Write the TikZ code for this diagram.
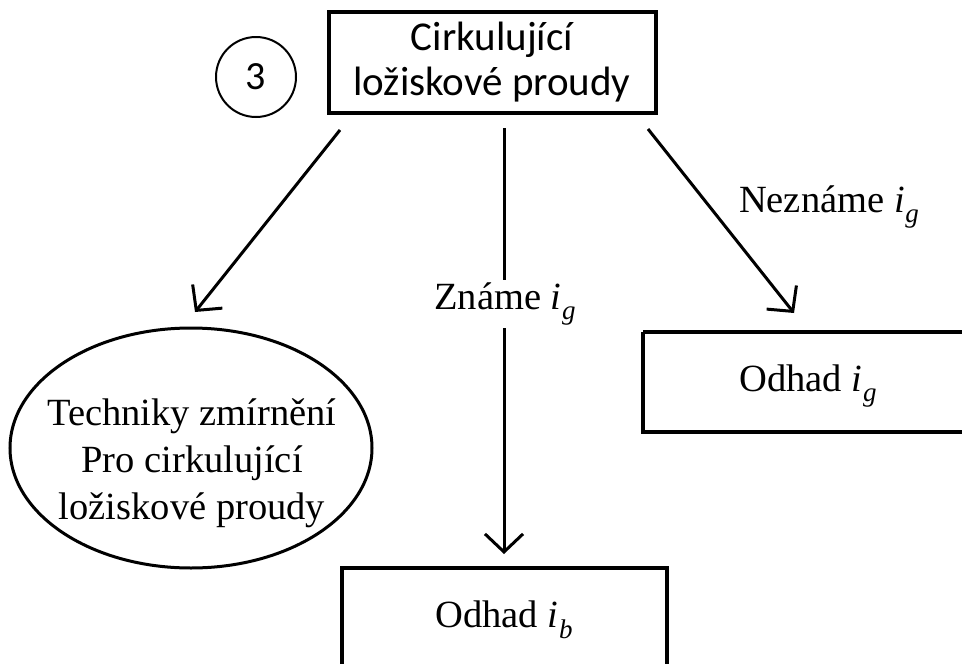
\documentclass[tikz,border=0pt]{standalone}
\usepackage{fontspec}
\setmainfont{Liberation Serif}
\newfontfamily\calib{Carlito}
\usetikzlibrary{arrows.meta,shapes.geometric}
\newcommand{\isub}[1]{\textit{i}\kern0.02em\raisebox{-0.28em}{\fontsize{27}{27}\selectfont\textit{#1}}}
\begin{document}
\begin{tikzpicture}[x=1pt,y=-1pt,
  serif/.style={font=\fontsize{38.5}{47}\selectfont, align=center},
  sans/.style={font=\calib\fontsize{41}{45}\selectfont, align=center},
  conn/.style={line width=3pt, -{Straight Barb[length=18pt,width=38pt,line width=3pt]}},
  boxline/.style={line width=4pt}]
\useasboundingbox (0,0) rectangle (962,664);
\fill[white] (0,0) rectangle (962,664);
% top box
\draw[boxline] (329,12) rectangle (656,113);
\node[sans] (top) at (492,62) {Cirkulující\\ložiskové proudy};
% circle
\node[draw, circle, line width=2pt, minimum size=80pt, inner sep=0pt, font=\calib\fontsize{40}{40}\selectfont] (circ) at (256,77) {3};
% ellipse
\node[draw, ellipse, line width=3pt, minimum width=362pt, minimum height=240pt, inner sep=0pt] (ell) at (191,448) {};
\node[serif] (elltext) at (192,463) {Techniky zmírnění\\Pro cirkulující\\ložiskové proudy};
% right box (cut off at right edge)
\draw[boxline] (643,332) -- (980,332) (643,332) -- (643,432) -- (980,432);
\node[serif] (rbox) at (808,386) {Odhad \isub{g}};
% bottom box (cut off at bottom edge)
\draw[line width=3.2pt] (342,680) -- (342,568) -- (667,568) -- (667,680);
\node[serif] (bbox) at (504,620) {Odhad \isub{b}};
% connectors
\coordinate (s1) at (340,130); \coordinate (e1) at (195,312);
\coordinate (s2) at (504,128); \coordinate (e2) at (504,554);
\coordinate (s3) at (648,129); \coordinate (e3) at (794,313);
\draw[conn] (s1) -- (e1);
\draw[conn] (s2) -- (e2);
\draw[conn] (s3) -- (e3);
% labels
\node[serif, fill=white, inner sep=2pt] (lab2) at (505,304) {Známe \isub{g}};
\node[serif] (lab3) at (829,207) {Neznáme \isub{g}};
\end{tikzpicture}
\end{document}
